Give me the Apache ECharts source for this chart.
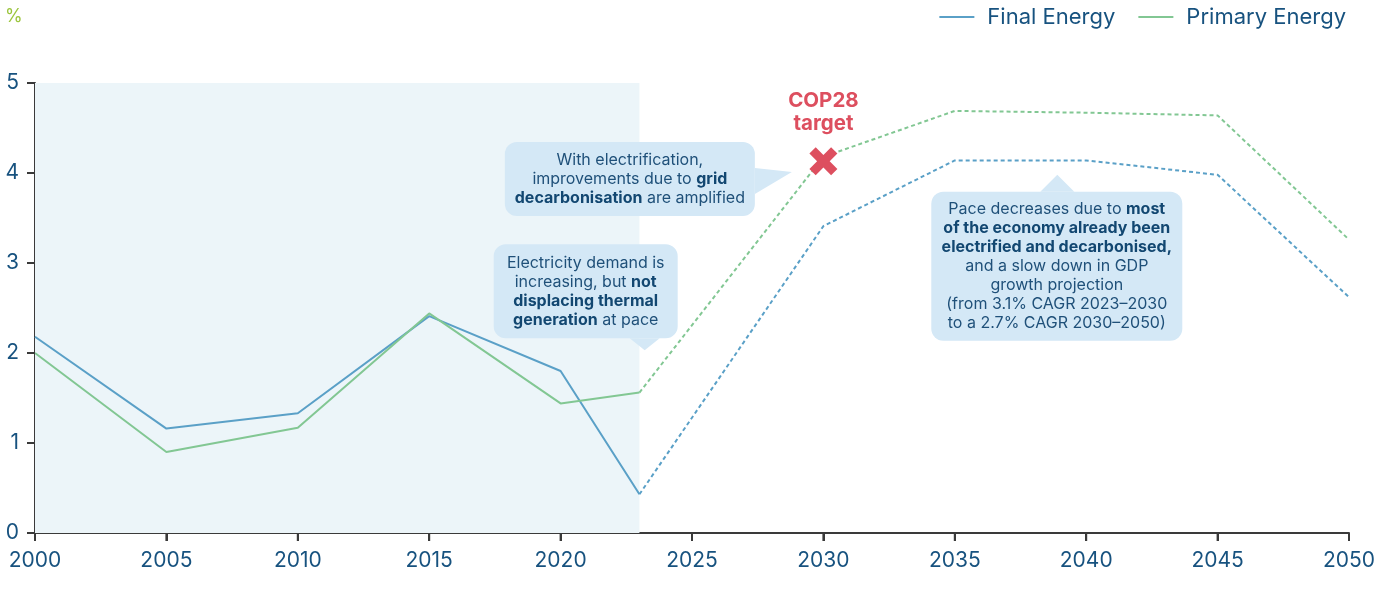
<!DOCTYPE html>
<html>
<head>
<meta charset="utf-8">
<script src="https://cdn.jsdelivr.net/npm/echarts@6/dist/echarts.min.js"></script>
<style>
  html, body { margin: 0; padding: 0; background: #ffffff; }
  #chart { width: 1387px; height: 602px; }
</style>
</head>
<body>
<div id="chart"></div>
<script>
// Annual energy productivity improvement, % per year
const years = [2000, 2005, 2010, 2015, 2020, 2023, 2030, 2035, 2040, 2045, 2050];
const finalEnergy = [2.18, 1.16, 1.33, 2.41, 1.80, 0.43, 3.41, 4.14, 4.14, 3.98, 2.62];
const primaryEnergy = [2.00, 0.90, 1.17, 2.44, 1.44, 1.56, 4.18, 4.69, 4.67, 4.64, 3.26];
const lastHistoricalYear = 2023;
const cop28Target = [2030, 4.13];
const xTicks = { min: 2000, max: 2050, interval: 5 };
const yTicks = { min: 0, max: 5, interval: 1 };

const FONT = 'Inter, "Noto Sans", sans-serif';
const BLUE = '#5aa0c7';
const GREEN = '#82c793';
const TEXT = '#17527f';
const AXIS = '#3a3a3a';
const RED = '#dd4f5f';
const TICK_LEN = 8;

function toPairs(xs, ys) { return xs.map((x, i) => [x, ys[i]]); }
const fePairs = toPairs(years, finalEnergy);
const pePairs = toPairs(years, primaryEnergy);
const histPart = p => p.filter(d => d[0] <= lastHistoricalYear);
const projPart = p => p.filter(d => d[0] >= lastHistoricalYear);
function tickValues(t) {
  const out = [];
  for (let v = t.min; v <= t.max + 1e-9; v += t.interval) out.push(v);
  return out;
}

const chart = echarts.init(document.getElementById('chart'), null, { renderer: 'canvas' });

function lineSeries(name, color, data, dashed) {
  return {
    name, type: 'line', data, symbol: 'none', silent: true,
    lineStyle: { color, width: 2, type: dashed ? [4, 3] : 'solid' },
    itemStyle: { color },
    emphasis: { disabled: true }
  };
}

const feHist = lineSeries('Final Energy', BLUE, histPart(fePairs), false);
feHist.markArea = {
  silent: true,
  itemStyle: { color: '#ecf5f9' },
  data: [[{ xAxis: xTicks.min }, { xAxis: lastHistoricalYear }]]
};

const axisCommon = {
  axisLine: { show: true, lineStyle: { color: AXIS, width: 2 } },
  axisTick: { show: true, inside: false, length: TICK_LEN, lineStyle: { color: AXIS, width: 2 } },
  splitLine: { show: false }
};

chart.setOption({
  animation: false,
  grid: { left: 35, right: 38, top: 83, bottom: 69 },
  legend: {
    data: ['Final Energy', 'Primary Energy'],
    right: 36, top: 1,
    icon: 'rect', itemWidth: 35, itemHeight: 2, itemGap: 23,
    textStyle: { color: TEXT, fontSize: 22, fontFamily: FONT, padding: [0, 0, 0, 8] },
    selectedMode: false
  },
  xAxis: Object.assign({
    type: 'value', min: xTicks.min, max: xTicks.max, interval: xTicks.interval,
    axisLabel: { color: TEXT, fontSize: 21, fontFamily: FONT, margin: 17, formatter: v => String(v) }
  }, axisCommon),
  yAxis: Object.assign({
    type: 'value', min: yTicks.min, max: yTicks.max, interval: yTicks.interval,
    axisLabel: { color: TEXT, fontSize: 21, fontFamily: FONT, margin: 16 }
  }, axisCommon),
  series: [
    feHist,
    lineSeries('Final Energy', BLUE, projPart(fePairs), true),
    lineSeries('Primary Energy', GREEN, histPart(pePairs), false),
    lineSeries('Primary Energy', GREEN, projPart(pePairs), true),
    {
      name: 'COP28 target', type: 'scatter', silent: true,
      data: [cop28Target],
      symbol: 'path://M4.5,0 L10,5.5 L15.5,0 L20,4.5 L14.5,10 L20,15.5 L15.5,20 L10,14.5 L4.5,20 L0,15.5 L5.5,10 L0,4.5 Z',
      symbolSize: 28, z: 10,
      itemStyle: { color: RED, opacity: 1 },
      emphasis: { disabled: true },
      label: {
        show: true, position: 'top', distance: 12, opacity: 1,
        formatter: 'COP28\ntarget',
        color: RED, fontSize: 20.5, fontWeight: 'bold', fontFamily: FONT, lineHeight: 23, align: 'center'
      }
    }
  ]
});

// Callout boxes anchored to data coordinates (pointer tip), with box geometry in pixels
const notes = [
  {
    tip: [2028.8, 4.01], box: [-287, -30, 250, 74], base: [[-37, -4], [-37, 22]],
    text: '{n|With electrification,}\n{n|improvements due to }{b|grid}\n{b|decarbonisation}{n| are amplified}'
  },
  {
    tip: [2023.2, 2.03], box: [-151, -106, 184, 94], base: [[-15, -12], [15, -12]],
    text: '{n|Electricity demand is}\n{n|increasing, but }{b|not}\n{b|displacing thermal}\n{b|generation}{n| at pace}'
  },
  {
    tip: [2038.9, 3.98], box: [-126, 17, 251, 149], base: [[-17, 17], [17, 17]],
    text: '{n|Pace decreases due to }{b|most}\n{b|of the economy already been}\n{b|electrified and decarbonised,}\n{n|and a slow down in GDP}\n{n|growth projection}\n{n|(from 3.1% CAGR 2023\u20132030}\n{n|to a 2.7% CAGR 2030\u20132050)}'
  }
];

const FILL = '#d4e8f6';
const graphics = [{
  type: 'text', left: 5, top: 8,
  style: { text: '%', fill: '#9bc53d', fontSize: 18, fontFamily: FONT }
}];

// Outward tick marks on both axes, placed through the axis scales
const tickStyle = { stroke: AXIS, lineWidth: 2 };
tickValues(xTicks).forEach(v => {
  const [px, py] = chart.convertToPixel({ gridIndex: 0 }, [v, yTicks.min]);
  graphics.push({ type: 'line', silent: true, z: 5,
    shape: { x1: px, y1: py, x2: px, y2: py + TICK_LEN }, style: tickStyle });
});
tickValues(yTicks).forEach(v => {
  const [px, py] = chart.convertToPixel({ gridIndex: 0 }, [xTicks.min, v]);
  graphics.push({ type: 'line', silent: true, z: 5,
    shape: { x1: px - TICK_LEN, y1: py, x2: px, y2: py }, style: tickStyle });
});

notes.forEach(n => {
  const [tx, ty] = chart.convertToPixel({ gridIndex: 0 }, n.tip);
  const [dx, dy, w, h] = n.box;
  const bx = tx + dx, by = ty + dy;
  graphics.push({
    type: 'rect', silent: true, z: 20,
    shape: { x: bx, y: by, width: w, height: h, r: 12 },
    style: { fill: FILL }
  });
  graphics.push({
    type: 'polygon', silent: true, z: 20,
    shape: { points: [[tx + n.base[0][0], ty + n.base[0][1]], [tx, ty], [tx + n.base[1][0], ty + n.base[1][1]]] },
    style: { fill: FILL }
  });
  graphics.push({
    type: 'text', silent: true, z: 21,
    x: bx + w / 2, y: by + h / 2,
    style: {
      text: n.text, align: 'center', verticalAlign: 'middle',
      fontSize: 16, fontFamily: FONT, lineHeight: 19, fill: '#1f5079',
      rich: {
        n: { fontSize: 16, fontFamily: FONT, fontWeight: 'normal', fill: '#1f5079', lineHeight: 19 },
        b: { fontSize: 16, fontFamily: FONT, fontWeight: 'bold', fill: '#124771', lineHeight: 19 }
      }
    }
  });
});
chart.setOption({ graphic: graphics });
</script>
</body>
</html>
